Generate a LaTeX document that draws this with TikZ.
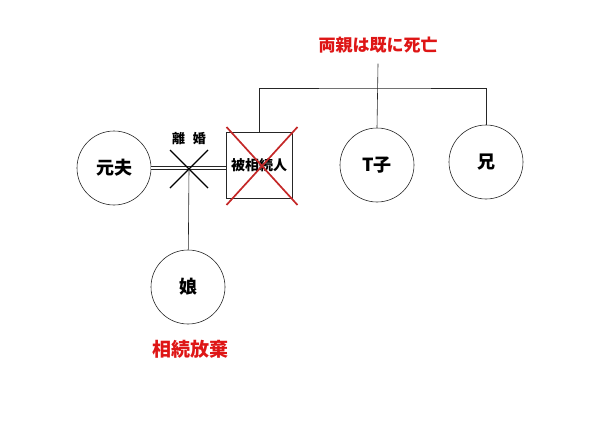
\documentclass[tikz,border=0pt]{standalone}
\usepackage{fontspec}
\newfontfamily\jp{Noto Sans CJK JP}
\usetikzlibrary{shapes.misc}
\definecolor{kreuzrot}{RGB}{196,40,40}
\definecolor{textrot}{RGB}{222,22,22}

\begin{document}
\begin{tikzpicture}[x=1pt, y=-1pt,
				line width=0.6pt, color=black!85,
				person/.style={draw, circle, minimum size=74pt, inner sep=0pt, text=black, font=\jp\bfseries\fontsize{18}{21}\selectfont},
				erblasser/.style={draw, minimum size=66pt, inner sep=0pt, text=black, font=\jp\bfseries\fontsize{14}{16}\selectfont},
				kreuz/.style={draw, cross out, inner sep=0pt, outer sep=0pt},
				hinweis/.style={text=textrot, font=\jp\bfseries\fontsize{#1}{#1}\selectfont}]
				%Bildbereich
				\useasboundingbox (0,0) rectangle (609,431);
				% Personen
				\node[person] (exmann) at (114,168) {元夫};
				\node[person] (tochter) at (188,287) {娘};
				\node[erblasser] (erbl) at (259,165) {被相続人};
				\node[person] (tko) at (377,165) {T子};
				\node[person] (bruder) at (486,162) {兄};
				% Beschriftungen
				\node[text=black, font=\jp\bfseries\fontsize{13}{14}\selectfont] (scheidung) at (189,139) {離\hspace{0.6em}婚};
				\node[hinweis=17] (eltern) at (378,45) {両親は既に死亡};
				\node[hinweis=19] (verzicht) at (190,349) {相続放棄};
				% Ehe und Scheidung
				\draw[double, double distance=2.4pt, line width=0.5pt] (exmann.east) -- (exmann.east -| erbl.west);
				\node[kreuz, line width=1.4pt, black, minimum size=38pt] (kx) at (189,169) {};
				\draw (kx.center) -- (tochter);
				% Geschwister
				\coordinate (geschw) at (377,88);
				\draw (erbl.north) |- (geschw) -| (bruder.north);
				\draw ([yshift=-7pt]eltern.south) -- (tko.north);
				% Kreuz ueber Erblasser
				\node[kreuz, draw=kreuzrot, line width=1.7pt, minimum width=71pt, minimum height=78pt] (rx) at (262,166) {};
			\end{tikzpicture}
\end{document}
